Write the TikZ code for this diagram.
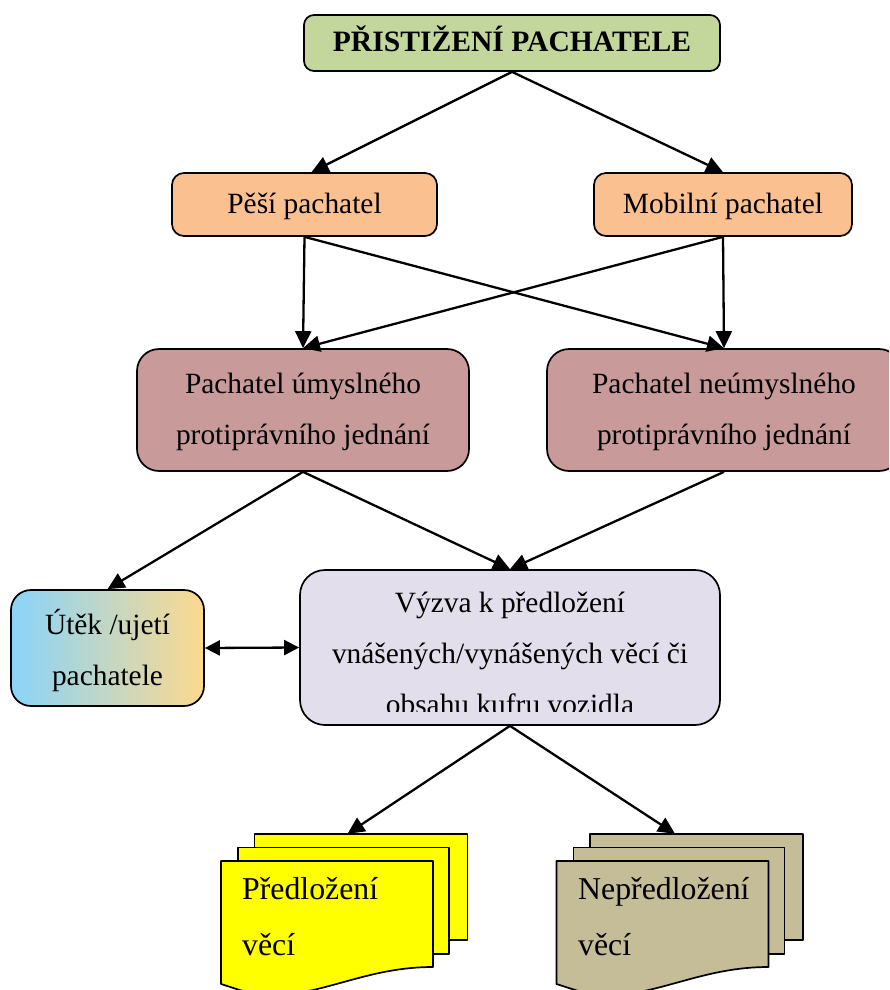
\documentclass[tikz,border=0pt]{standalone}
\usepackage{fontspec}
\setmainfont{Liberation Serif}
\usetikzlibrary{arrows.meta}

\definecolor{titlegreen}{HTML}{C3D69B}
\definecolor{peach}{HTML}{FAC090}
\definecolor{rosy}{HTML}{C89A9A}
\definecolor{lilac}{HTML}{E3DEEB}
\definecolor{sky}{HTML}{8AD4FA}
\definecolor{sand}{HTML}{FCD98E}
\definecolor{tan}{HTML}{C4BD97}
\definecolor{sheetyellow}{HTML}{FFFF00}

\tikzset{
    box/.style={draw, rounded corners=#1, line width=1.7pt, inner sep=0pt, align=center},
    label font/.style={font=\fontsize{29.4}{51}\selectfont},
    sheet font/.style={font=\fontsize{31.8}{56}\selectfont},
    arrow/.style={-{Triangle[length=17pt,width=16pt]}, line width=2.3pt},
    sheet/.style={draw, line width=1.7pt, line join=round}
}

\newcommand{\firstline}[1]{\rule{0pt}{#1pt}}

% three sheets behind each other, #1 = shift, #2 = colour
\newcommand{\sheetstack}[2]{
    \begin{scope}[xshift=#1]
    \draw[sheet, fill=#2] (254.5,834) -- (467.5,834) -- (467.5,940) -- (254.5,940) -- cycle;
    \draw[sheet, fill=#2] (238,847.5) -- (449,847.5) -- (449,954) -- (238,954) -- cycle;
    \draw[sheet, fill=#2] (221,861) -- (433,861) -- (433,967) .. controls (370,967) and (330,992) .. (275,996) .. controls (255,996) and (240,990) .. (221,984) -- cycle;
    \end{scope}
}

\begin{document}
\begin{tikzpicture}[x=1pt, y=-1pt, label font]
\useasboundingbox (0,0) rectangle (889,990);
\clip (0,0) rectangle (889,990);

\node[box=10pt, fill=titlegreen, minimum width=416, minimum height=56, text height=22pt, text depth=4pt] (title) at (512,43) {\fontsize{29.6}{32}\selectfont\textbf{PŘISTIŽENÍ PACHATELE}};

\node[box=12pt, fill=peach, minimum width=265, minimum height=63] (pesi) at (304.5,204.5) {\firstline{25}Pěší pachatel};
\node[box=12pt, fill=peach, minimum width=258, minimum height=63] (mobilni) at (723,204.5) {\firstline{25}Mobilní pachatel};

\node[box=22pt, fill=rosy, minimum width=332, minimum height=122] (umyslny) at (303,410) {\firstline{25}Pachatel úmyslného\\protiprávního jednání};
\node[box=22pt, fill=rosy, minimum width=354, minimum height=122] (neumyslny) at (724,410) {\firstline{25}Pachatel neúmyslného\\protiprávního jednání};

\node[box=20pt, left color=sky, right color=sand, minimum width=193, minimum height=116] (utek) at (107.5,648) {\firstline{30}Útěk /ujetí\\pachatele};

\node[box=25pt, fill=lilac, minimum width=420, minimum height=155] (vyzva) at (510,647.5) {};
\begin{scope}
\clip (300,570) rectangle (720,711);
\node[align=center] (vyzvaText) at (510,653) {Výzva k předložení\\vnášených/vynášených věcí či\\obsahu kufru vozidla};
\end{scope}

\sheetstack{0}{sheetyellow}
\sheetstack{335.5}{tan}
\node[minimum width=246, minimum height=20, inner sep=0pt] (predlozeni) at (344.5,844) {};
\node[minimum width=245, minimum height=20, inner sep=0pt] (nepredlozeni) at (680,844) {};
\node[anchor=west, inner sep=0pt, align=left, sheet font] (predlozeniText) at (242,917) {Předložení\\věcí};
\node[anchor=west, inner sep=0pt, align=left, sheet font] (nepredlozeniText) at (578,917) {Nepředložení\\věcí};

\draw[arrow] (title.south) -- ([xshift=7]pesi.north);
\draw[arrow] (title.south) -- (mobilni.north);
\draw[arrow] (pesi.south) -- (umyslny.north);
\draw[arrow] (pesi.south) -- (neumyslny.north);
\draw[arrow] (mobilni.south) -- (umyslny.north);
\draw[arrow] (mobilni.south) -- (neumyslny.north);
\draw[arrow] (umyslny.south) -- (utek.north);
\draw[arrow] (umyslny.south) -- (vyzva.north);
\draw[arrow] (neumyslny.south) -- (vyzva.north);
\draw[{Triangle[length=15pt,width=15pt]}-{Triangle[length=15pt,width=15pt]}, line width=2.3pt] (utek.east) -- (vyzva.west);
\draw[arrow] (vyzva.south) -- ([xshift=3]predlozeni.north);
\draw[arrow] (vyzva.south) -- ([xshift=-5]nepredlozeni.north);

\end{tikzpicture}
\end{document}
